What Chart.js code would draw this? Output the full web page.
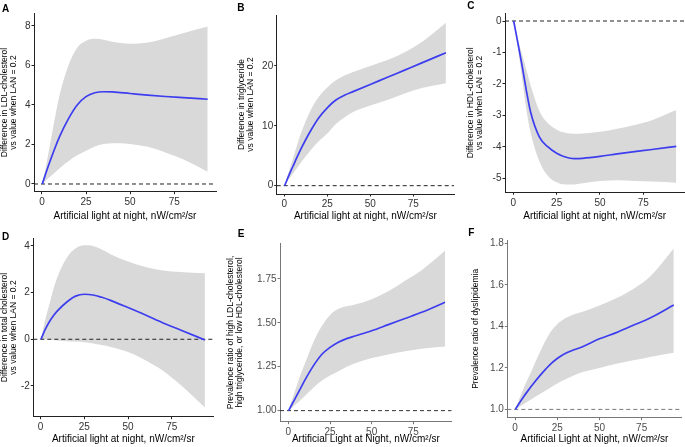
<!DOCTYPE html>
<html>
<head>
<meta charset="utf-8">
<script src="https://cdn.jsdelivr.net/npm/chart.js@4.4.1/dist/chart.umd.min.js"></script>
<style>
  body { margin: 0; background: #fff; }
  #fig { position: relative; width: 685px; height: 447px; overflow: hidden; font-family: "Liberation Sans", Arial, sans-serif; }
  #fig canvas { position: absolute; }
  .tag { position: absolute; font-weight: bold; font-size: 10px; line-height: 10px; color: #000; }
</style>
</head>
<body>
<div id="fig"></div>
<script>
// LAN values (nW/cm2/sr) where the curves were read
const lan = [0.2, 2.5, 5, 7.5, 10, 15, 20, 25, 30, 35, 40, 50, 60, 70, 80, 94];
const xTicks = [0, 25, 50, 75];

// A - LDL-cholesterol
const ldlFit  = [0, 0.62, 1.25, 1.85, 2.4, 3.3, 4.0, 4.42, 4.62, 4.67, 4.66, 4.58, 4.5, 4.43, 4.37, 4.29];
const ldlHigh = [0, 1.0, 2.2, 3.4, 4.5, 6.0, 6.9, 7.25, 7.35, 7.3, 7.2, 7.1, 7.16, 7.38, 7.63, 7.97];
const ldlLow  = [0, 0.2, 0.4, 0.6, 0.8, 1.15, 1.45, 1.68, 1.9, 2.02, 2.06, 2.03, 1.88, 1.6, 1.25, 0.62];
const ldlTicks = [0, 2, 4, 6, 8];

// B - triglyceride
const tgFit  = [0, 1.6, 3.2, 4.8, 6.3, 9.0, 11.3, 13.0, 14.3, 15.1, 15.7, 16.9, 18.1, 19.3, 20.5, 22.2];
const tgHigh = [0, 2.2, 4.5, 6.8, 9.0, 12.4, 14.8, 16.4, 17.6, 18.4, 19.0, 20.0, 21.0, 22.3, 24.0, 27.2];
const tgLow  = [0, 1.0, 2.0, 3.0, 4.0, 5.8, 7.4, 8.7, 10.3, 11.4, 12.3, 13.4, 14.3, 15.4, 16.3, 17.1];
const tgTicks = [0, 10, 20];

// C - HDL-cholesterol
const hdlFit  = [0, -0.66, -1.4, -2.2, -2.9, -3.68, -4.0, -4.2, -4.32, -4.37, -4.36, -4.3, -4.22, -4.15, -4.08, -3.98];
const hdlHigh = [0, -0.55, -1.05, -1.55, -2.05, -2.85, -3.25, -3.45, -3.55, -3.58, -3.57, -3.52, -3.42, -3.3, -3.15, -2.83];
const hdlLow  = [0, -0.8, -1.8, -2.8, -3.55, -4.45, -4.92, -5.12, -5.19, -5.19, -5.15, -5.08, -5.06, -5.08, -5.1, -5.14];
const hdlTicks = [0, -1, -2, -3, -4, -5];

// D - total cholesterol
const tcFit  = [0, 0.4, 0.75, 1.03, 1.25, 1.6, 1.85, 1.93, 1.9, 1.8, 1.67, 1.36, 1.04, 0.7, 0.4, -0.03];
const tcHigh = [0, 0.8, 1.5, 2.2, 2.75, 3.5, 3.9, 4.03, 4.0, 3.85, 3.65, 3.33, 3.1, 2.95, 2.88, 2.83];
const tcLow  = [0, 0.0, 0.0, -0.03, -0.05, -0.08, -0.1, -0.13, -0.18, -0.25, -0.33, -0.55, -0.9, -1.35, -1.95, -2.93];
const tcTicks = [-2, 0, 2, 4];

// E - prevalence ratio, any abnormal lipid
const anyFit  = [1.0, 1.042, 1.085, 1.13, 1.175, 1.255, 1.32, 1.36, 1.39, 1.41, 1.425, 1.455, 1.49, 1.525, 1.56, 1.617];
const anyHigh = [1.0, 1.07, 1.14, 1.21, 1.27, 1.39, 1.48, 1.545, 1.58, 1.595, 1.605, 1.635, 1.68, 1.74, 1.8, 1.91];
const anyLow  = [1.0, 1.02, 1.04, 1.062, 1.085, 1.13, 1.17, 1.2, 1.225, 1.25, 1.27, 1.3, 1.32, 1.338, 1.352, 1.365];
const anyTicks = [1.0, 1.25, 1.5, 1.75];

// F - prevalence ratio, dyslipidemia
const dysFit  = [1.0, 1.03, 1.06, 1.088, 1.115, 1.165, 1.21, 1.245, 1.27, 1.287, 1.302, 1.34, 1.37, 1.405, 1.44, 1.503];
const dysHigh = [1.0, 1.05, 1.1, 1.145, 1.19, 1.28, 1.36, 1.41, 1.44, 1.458, 1.47, 1.5, 1.535, 1.58, 1.64, 1.775];
const dysLow  = [1.0, 1.012, 1.025, 1.038, 1.05, 1.075, 1.1, 1.125, 1.145, 1.165, 1.18, 1.2, 1.22, 1.237, 1.253, 1.273];
const dysTicks = [1.0, 1.2, 1.4, 1.6, 1.8];

const refLines = [0, 0, 0, 0, 1, 1];
const tags = ["A", "B", "C", "D", "E", "F"];

const xLower = "Artificial light at night, nW/cm\u00b2/sr";
const xUpper = "Artificial Light at Night, nW/cm\u00b2/sr";

const FONT = '"Liberation Sans", Arial, sans-serif';

// box = canvas rect, plot = plot area rect (left, top, right, bottom)
const panels = [
  { fit: ldlFit, high: ldlHigh, low: ldlLow, yTicks: ldlTicks, dec: 0,
    yTitle: ["Difference in LDL-cholesterol", "vs value when LAN = 0.2"], xTitle: xLower,
    box: [0, 0, 228, 224], plot: [34, 13.3, 216, 191.7], x: [-4.5, 98.7], y: [-0.39, 8.64],
    tag: [2, 3.7], tPad: 0.5, xPad: 2, axis: "#222", tick: "#333", dash: "#222" },
  { fit: tgFit, high: tgHigh, low: tgLow, yTicks: tgTicks, dec: 0,
    yTitle: ["Difference in triglyceride", "vs value when LAN = 0.2"], xTitle: xLower,
    box: [228, 0, 457, 224], plot: [276.7, 15, 454, 194], x: [-4.4, 98.7], y: [-1.39, 28.5],
    tag: [237.3, 2.7], tPad: 9.2, xPad: 2, axis: "#222", tick: "#333", dash: "#222" },
  { fit: hdlFit, high: hdlHigh, low: hdlLow, yTicks: hdlTicks, dec: 0,
    yTitle: ["Difference in HDL-cholesterol", "vs value when LAN = 0.2"], xTitle: xLower,
    box: [457, 0, 685, 224], plot: [505, 13.3, 684.4, 192.3], x: [-4.8, 98.7], y: [-5.44, 0.245],
    tag: [467.3, 1.4], tPad: 9.5, xPad: 2, axis: "#222", tick: "#333", dash: "#222" },
  { fit: tcFit, high: tcHigh, low: tcLow, yTicks: tcTicks, dec: 0,
    yTitle: ["Difference in total cholesterol", "vs value when LAN = 0.2"], xTitle: xLower,
    box: [0, 224, 228, 447], plot: [33.3, 238.3, 213.3, 416.7], x: [-4.2, 98.8], y: [-3.32, 4.33],
    tag: [2, 232], tPad: 0.5, xPad: 1.5, axis: "#222", tick: "#333", dash: "#222" },
  { fit: anyFit, high: anyHigh, low: anyLow, yTicks: anyTicks, dec: 2,
    yTitle: ["Prevalence ratio of high LDL-cholesterol,", "high triglyceride, or low HDL-cholesterol"], xTitle: xUpper,
    box: [225, 224, 457, 447], plot: [280, 243.3, 451.7, 421.7], x: [-5.0, 98], y: [0.937, 1.953],
    tag: [237.7, 228.7], tPad: 1.5, xPad: 1.5, axis: "#777", tick: "#4d4d4d", dash: "#333" },
  { fit: dysFit, high: dysHigh, low: dysLow, yTicks: dysTicks, dec: 1,
    yTitle: "Prevalence ratio of dyslipidemia", xTitle: xUpper,
    box: [457, 224, 685, 447], plot: [507.3, 240, 681.7, 417.7], x: [-4.56, 98.7], y: [0.96, 1.816],
    tag: [468.3, 227.7], tPad: 14.2, xPad: 1.5, axis: "#777", tick: "#4d4d4d", dash: "#777" }
];

const fig = document.getElementById("fig");
const pts = (ys) => lan.map((x, i) => ({ x: x, y: ys[i] }));

panels.forEach((p, i) => {
  const [bl, bt, br, bb] = p.box;
  const [pl, pt, pr, pb] = p.plot;

  const tag = document.createElement("div");
  tag.className = "tag";
  tag.textContent = tags[i];
  tag.style.left = p.tag[0] + "px";
  tag.style.top = p.tag[1] + "px";

  const canvas = document.createElement("canvas");
  canvas.width = br - bl;
  canvas.height = bb - bt;
  canvas.style.left = bl + "px";
  canvas.style.top = bt + "px";
  fig.appendChild(canvas);
  fig.appendChild(tag);

  const ref = refLines[i];

  new Chart(canvas, {
    type: "line",
    data: {
      datasets: [
        { data: pts(p.high), borderWidth: 0, fill: false, order: 3 },
        { data: pts(p.low), borderWidth: 0, backgroundColor: "#d9d9d9", fill: "-1", order: 2 },
        { data: [{ x: p.x[0], y: ref }, { x: p.x[1], y: ref }], borderColor: p.dash,
          borderWidth: 1, borderDash: [4, 3], fill: false, order: 1 },
        { data: pts(p.fit), borderColor: "#3d3df0", borderWidth: 1.7, fill: false, order: 0 }
      ]
    },
    options: {
      responsive: false,
      animation: false,
      layout: { padding: { left: 0, top: pt - bt, right: br - pr, bottom: 0 } },
      elements: {
        point: { radius: 0 },
        line: { cubicInterpolationMode: "monotone" }
      },
      plugins: { legend: { display: false }, tooltip: { enabled: false } },
      scales: {
        x: {
          type: "linear",
          min: p.x[0],
          max: p.x[1],
          afterFit: (s) => { s.height = bb - pb; },
          afterBuildTicks: (s) => { s.ticks = xTicks.map((v) => ({ value: v })); },
          grid: { display: true, drawOnChartArea: false, drawTicks: true, tickLength: 2.5, color: p.axis, lineWidth: 1 },
          border: { display: true, color: p.axis, width: 1 },
          ticks: { color: p.tick, font: { family: FONT, size: 10 }, padding: 2, maxRotation: 0, autoSkip: false },
          title: { display: true, text: p.xTitle, color: "#000", font: { family: FONT, size: 10, lineHeight: 1.2 },
                   padding: { top: 0, bottom: p.xPad } }
        },
        y: {
          type: "linear",
          min: p.y[0],
          max: p.y[1],
          afterFit: (s) => { s.width = pl - bl; },
          afterBuildTicks: (s) => { s.ticks = p.yTicks.map((v) => ({ value: v })); },
          grid: { display: true, drawOnChartArea: false, drawTicks: true, tickLength: 2.5, color: p.axis, lineWidth: 1 },
          border: { display: true, color: p.axis, width: 1 },
          ticks: { color: p.tick, font: { family: FONT, size: 10 }, padding: 1,
                   callback: (v) => Number(v).toFixed(p.dec) },
          title: { display: true, text: p.yTitle, color: "#000", font: { family: FONT, size: 8.5, lineHeight: 1.05 },
                   padding: { top: p.tPad, bottom: 0 } }
        }
      }
    }
  });
});
</script>
</body>
</html>
